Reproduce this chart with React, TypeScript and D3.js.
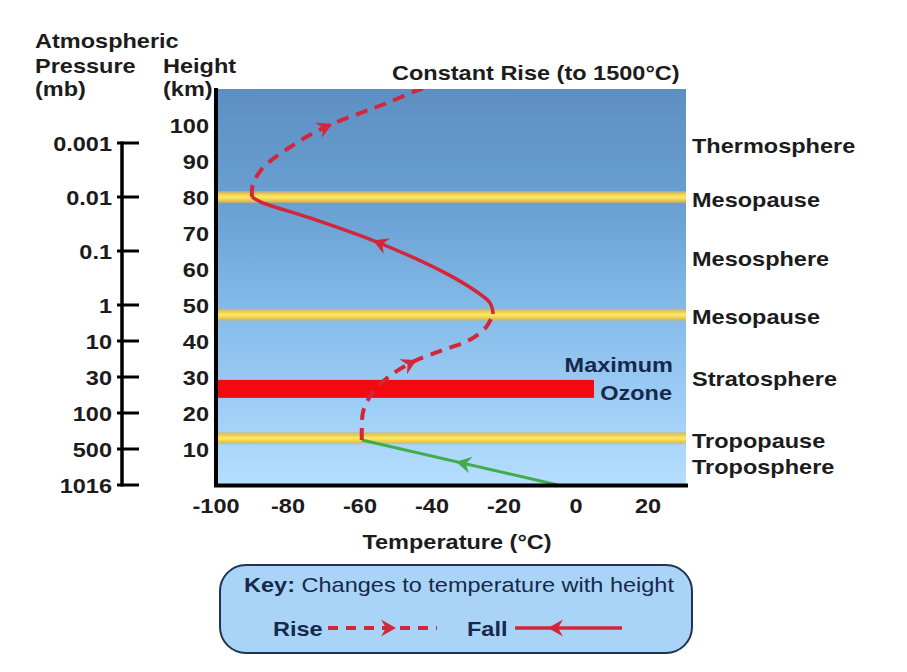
import React, { useEffect, useRef, useState } from 'react';
import * as d3 from 'd3';

// ---------- data ----------
const tempTicks = [-100, -80, -60, -40, -20, 0, 20];
const heightTicks = [10, 20, 30, 40, 50, 60, 70, 80, 90, 100];
const pressureLabels = ['0.001', '0.01', '0.1', '1', '10', '30', '100', '500', '1016'];
const pressureHeightsKm = [95, 80, 65, 50, 40, 30, 20, 10, 0];
const layerLabels = ['Thermosphere', 'Mesopause', 'Mesosphere', 'Mesopause', 'Stratosphere', 'Tropopause', 'Troposphere'];
const layerLabelHeightsKm = [94.4, 79.4, 63, 47, 29.7, 12.5, 5.3];
const boundaryHeightsKm = [13, 47.3, 80];
const ozoneHeightsKm = [24.2, 29.2];
const ozoneTempRange = [-100, 5];

// temperature profile segments: [temperature °C, height km], listed upward
const troposphere: [number, number][] = [[-5, 0], [-59.5, 12.5]];
const stratosphere: [number, number][] = [
  [-59.5, 12.5], [-59.5, 15], [-59.1, 20.5], [-56.6, 25.5], [-52.5, 29.7],
  [-45.3, 34.2], [-36.9, 37.5], [-29.6, 40.3], [-25, 43.8], [-23, 47.5],
];
const mesosphere: [number, number][] = [
  [-23, 47.5], [-23.9, 50.6], [-27.5, 53.6], [-36.9, 59.2], [-55.3, 67.5],
  [-73.9, 74.2], [-87.5, 78.6], [-90, 80],
];
const thermosphere: [number, number][] = [
  [-90, 80], [-89.8, 83.3], [-87, 88.1], [-78.6, 94.4], [-69.7, 99.4],
  [-59.2, 103.6], [-52.5, 106.1], [-44, 109.7], [-40, 111],
];
const arrowPoints: [number, number][] = [[-32.2, 6.1], [-45.3, 34.2], [-55.3, 67.5], [-68.7, 99.8]];
const arrowSegments = [0, 1, 2, 3];

// ---------- layout ----------
const W = 907, H = 672;
const x = d3.scaleLinear().domain([-100, 30]).range([216, 684]);
const y = d3.scaleLinear().domain([0, 110]).range([485, 89]);
const RED = '#d4263b';
const GREEN = '#41ad4a';
const NAVY = '#17294a';
const INK = '#1c1c1c';
const FONT = "'Liberation Sans', Arial, sans-serif";
const SX = 1.12;

function T(props: { x: number; y: number; anchor?: string; size?: number; weight?: string; fill?: string; children: any }) {
  const { x: tx, y: ty, anchor = 'start', size = 21, weight = 'bold', fill = INK, children } = props;
  return (
    <text transform={`translate(${tx},${ty}) scale(${SX},1)`} textAnchor={anchor} fontFamily={FONT}
      fontSize={size} fontWeight={weight} fill={fill}>{children}</text>
  );
}

const curved = d3.line<[number, number]>().x(d => x(d[0])).y(d => y(d[1])).curve(d3.curveCatmullRom.alpha(0.5));
const straight = d3.line<[number, number]>().x(d => x(d[0])).y(d => y(d[1]));

const segments = [
  { d: straight(troposphere), color: GREEN, dash: undefined, w: 3 },
  { d: curved(stratosphere), color: RED, dash: '12 8', w: 4 },
  { d: curved(mesosphere), color: RED, dash: undefined, w: 3.5 },
  { d: curved(thermosphere), color: RED, dash: '12 8', w: 4 },
];

const ARROW = 'M4,0 L-11,-8.5 L-6,0 L-11,8.5 Z';

export default function App() {
  const segRefs = useRef<(SVGPathElement | null)[]>([]);
  const [arrows, setArrows] = useState<{ x: number; y: number; a: number; c: string }[]>([]);

  useEffect(() => {
    const out = arrowPoints.map((p, i) => {
      const si = arrowSegments[i];
      const path = segRefs.current[si]!;
      const L = path.getTotalLength();
      const px = x(p[0]), py = y(p[1]);
      let best = 0, bd = Infinity;
      for (let l = 0; l <= L; l += 0.5) {
        const q = path.getPointAtLength(l);
        const dd = (q.x - px) ** 2 + (q.y - py) ** 2;
        if (dd < bd) { bd = dd; best = l; }
      }
      const q = path.getPointAtLength(best);
      const a = path.getPointAtLength(Math.max(0, best - 4));
      const b = path.getPointAtLength(Math.min(L, best + 4));
      return { x: q.x, y: q.y, a: (Math.atan2(b.y - a.y, b.x - a.x) * 180) / Math.PI, c: segments[si].color };
    });
    setArrows(out);
  }, []);

  const plotL = x(-100), plotR = x(30) + 2, plotT = y(110), plotB = y(0);

  return (
    <div style={{ position: 'absolute', left: 0, top: 0 }}>
      <svg width={W} height={H} style={{ display: 'block', background: '#fff' }}>
        <defs>
          <linearGradient id="sky" x1="0" y1="0" x2="0" y2="1">
            <stop offset="0" stopColor="#5d8fc3" />
            <stop offset="0.3" stopColor="#6aa0d2" />
            <stop offset="0.55" stopColor="#84bae8" />
            <stop offset="0.8" stopColor="#9ecef6" />
            <stop offset="1" stopColor="#b6deff" />
          </linearGradient>
          <linearGradient id="band" x1="0" y1="0" x2="0" y2="1">
            <stop offset="0" stopColor="#c9b46a" stopOpacity="0.6" />
            <stop offset="0.22" stopColor="#efc94a" />
            <stop offset="0.5" stopColor="#fbec66" />
            <stop offset="0.78" stopColor="#efc94a" />
            <stop offset="1" stopColor="#c9b46a" stopOpacity="0.6" />
          </linearGradient>
          <clipPath id="plotClip">
            <rect x={plotL} y={plotT} width={plotR - plotL} height={plotB - plotT} />
          </clipPath>
        </defs>

        {/* plot background */}
        <rect x={plotL} y={plotT} width={plotR - plotL} height={plotB - plotT} fill="url(#sky)" />

        {/* boundary bands */}
        {boundaryHeightsKm.map((h, i) => (
          <rect key={i} x={plotL} y={y(h) - 6} width={plotR - plotL} height={12} fill="url(#band)" />
        ))}

        {/* ozone bar */}
        <rect x={x(ozoneTempRange[0])} y={y(ozoneHeightsKm[1])} width={x(ozoneTempRange[1]) - x(ozoneTempRange[0])}
          height={y(ozoneHeightsKm[0]) - y(ozoneHeightsKm[1])} fill="#f20a10" />
        <T x={673} y={372} anchor="end" fill={NAVY}>Maximum</T>
        <T x={672} y={400} anchor="end" fill={NAVY}>Ozone</T>

        {/* temperature profile */}
        <g clipPath="url(#plotClip)">
          {segments.map((s, i) => (
            <path key={i} ref={el => { segRefs.current[i] = el; }} d={s.d || ''} fill="none" stroke={s.color}
              strokeWidth={s.w} strokeDasharray={s.dash} strokeLinecap="butt" />
          ))}
          {arrows.map((a, i) => (
            <path key={i} d={ARROW} fill={a.c} transform={`translate(${a.x},${a.y}) rotate(${a.a})`} />
          ))}
        </g>

        {/* axes */}
        <line x1={plotL} x2={plotL} y1={plotT - 1} y2={plotB + 2} stroke="#000" strokeWidth={4} />
        <line x1={plotL - 2} x2={plotR + 2} y1={plotB + 0.5} y2={plotB + 0.5} stroke="#000" strokeWidth={4} />

        {tempTicks.map(t => (
          <T key={t} x={x(t)} y={513} anchor="middle">{t}</T>
        ))}
        {heightTicks.map(h => (
          <T key={h} x={209} y={y(h) + 7.5} anchor="end">{h}</T>
        ))}

        {/* pressure axis */}
        <line x1={122} x2={122} y1={y(95) - 1.5} y2={y(0) + 1.5} stroke="#000" strokeWidth={3.5} />
        {pressureHeightsKm.map((h, i) => (
          <g key={i}>
            <line x1={117} x2={139} y1={y(h)} y2={y(h)} stroke="#000" strokeWidth={3} />
            <T x={112} y={y(h) + 7.5} anchor="end">{pressureLabels[i]}</T>
          </g>
        ))}

        {/* header labels */}
        <T x={35} y={48}>Atmospheric</T>
        <T x={35} y={73}>Pressure</T>
        <T x={35} y={96}>(mb)</T>
        <T x={163} y={73}>Height</T>
        <T x={163} y={96}>(km)</T>
        <T x={392} y={80}>Constant Rise (to 1500°C)</T>

        {/* layer labels */}
        {layerLabels.map((l, i) => (
          <T key={i} x={692} y={y(layerLabelHeightsKm[i]) + 8}>{l}</T>
        ))}

        <T x={457} y={549} anchor="middle">Temperature (°C)</T>

        {/* key */}
        <rect x={220} y={565} width={472} height={88} rx={26} fill="#a9d4f8" stroke="#203352" strokeWidth={2} />
        <text transform={`translate(459,592) scale(${SX},1)`} textAnchor="middle" fontFamily={FONT} fontSize={21} fill={NAVY}>
          <tspan fontWeight="bold">Key:</tspan> Changes to temperature with height
        </text>
        <T x={273} y={636} fill={NAVY}>Rise</T>
        <line x1={328} x2={437} y1={628} y2={628} stroke={RED} strokeWidth={4} strokeDasharray="10 8" />
        <path d={ARROW} fill={RED} transform="translate(392,628)" />
        <T x={467} y={636} fill={NAVY}>Fall</T>
        <line x1={515} x2={622} y1={628} y2={628} stroke={RED} strokeWidth={3.5} />
        <path d={ARROW} fill={RED} transform="translate(552,628) rotate(180)" />
      </svg>
    </div>
  );
}
